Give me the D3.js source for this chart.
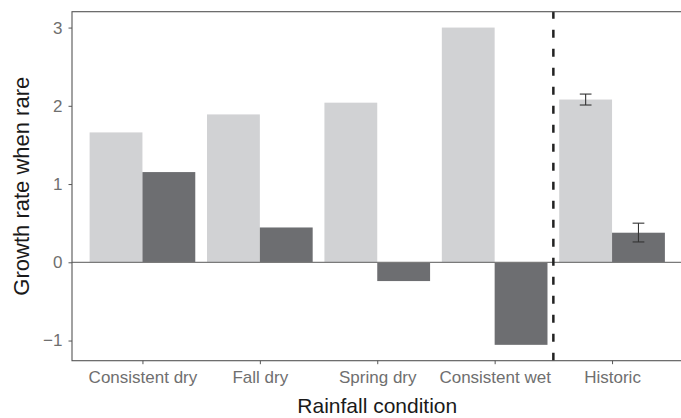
<!DOCTYPE html>
<html>
<head>
<meta charset="utf-8">
<script src="https://cdn.jsdelivr.net/npm/d3@7"></script>
<style>
    html, body { margin: 0; padding: 0; background: #fff; }
    svg { display: block; font-family: "Liberation Sans", Arial, sans-serif; }
</style>
</head>
<body>
<svg id="chart" width="681" height="418"></svg>
<script>
// Chart data
const categories = ['Consistent dry', 'Fall dry', 'Spring dry', 'Consistent wet', 'Historic'];
const seriesNames = ['light', 'dark'];
const lightValues = [1.66, 1.89, 2.04, 3.00, 2.08];
const darkValues = [1.153, 0.445, -0.24, -1.055, 0.378];
// error bars [low, high], only the historic condition has them
const lightErrors = [null, null, null, null, [2.01, 2.15]];
const darkErrors = [null, null, null, null, [0.26, 0.50]];
const yTicks = [-1, 0, 1, 2, 3];

const colors = { light: '#d1d2d4', dark: '#6d6e71' };

const margin = { top: 11.7, right: -1.5, bottom: 57.3, left: 72 };
const width = 681 - margin.left - margin.right;
const height = 418 - margin.top - margin.bottom;

const svg = d3.select('#chart');
const g = svg.append('g')
    .attr('transform', `translate(${margin.left},${margin.top})`);

// Build one row per bar so everything comes from the arrays above
const bars = [];
categories.forEach((cat, i) => {
    bars.push({ cat, series: 'light', value: lightValues[i], err: lightErrors[i] });
    bars.push({ cat, series: 'dark', value: darkValues[i], err: darkErrors[i] });
});

// ggplot-like expansion: 5% on y, 0.6 of a step on the discrete x
const allVals = bars.map(d => d.value).concat([0]);
bars.forEach(d => { if (d.err) allVals.push(...d.err); });
const [yMin, yMax] = d3.extent(allVals);
const yPad = (yMax - yMin) * 0.05;

const x = d3.scalePoint()
    .domain(categories)
    .range([0, width])
    .padding(0.6);

const step = x.step();
const barW = step * 0.45;

const xSub = d3.scaleBand()
    .domain(seriesNames)
    .range([-barW, barW]);

const y = d3.scaleLinear()
    .domain([yMin - yPad, yMax + yPad])
    .range([height, 0]);

// Bars
g.selectAll('rect.bar')
    .data(bars)
    .join('rect')
    .attr('class', 'bar')
    .attr('x', d => x(d.cat) + xSub(d.series))
    .attr('width', xSub.bandwidth())
    .attr('y', d => y(Math.max(0, d.value)))
    .attr('height', d => Math.abs(y(d.value) - y(0)))
    .attr('fill', d => colors[d.series]);

// Zero reference line
g.append('line')
    .attr('x1', 0)
    .attr('x2', width)
    .attr('y1', y(0))
    .attr('y2', y(0))
    .attr('stroke', '#7a7a7a')
    .attr('stroke-width', 1.3);

// Error bars
const capHalf = step * 0.05;
const errBars = bars.filter(d => d.err);
errBars.forEach(d => {
    const cx = x(d.cat) + xSub(d.series) + xSub.bandwidth() / 2;
    const eg = g.append('g')
        .attr('stroke', '#333')
        .attr('stroke-width', 1.1);
    eg.append('line')
        .attr('x1', cx).attr('x2', cx)
        .attr('y1', y(d.err[0])).attr('y2', y(d.err[1]));
    d.err.forEach(v => {
        eg.append('line')
            .attr('x1', cx - capHalf).attr('x2', cx + capHalf)
            .attr('y1', y(v)).attr('y2', y(v));
    });
});

// Dashed separator between the experimental conditions and historic
const sepX = (x(categories[3]) + x(categories[4])) / 2;
g.append('line')
    .attr('x1', sepX)
    .attr('x2', sepX)
    .attr('y1', height)
    .attr('y2', 0)
    .attr('stroke', '#222')
    .attr('stroke-width', 2.5)
    .attr('stroke-dasharray', '8,11');

// Panel border
g.append('rect')
    .attr('x', 0)
    .attr('y', 0)
    .attr('width', width)
    .attr('height', height)
    .attr('fill', 'none')
    .attr('stroke', '#555')
    .attr('stroke-width', 1.1);

// Axes
const yAxis = d3.axisLeft(y)
    .tickValues(yTicks)
    .tickSize(3.5)
    .tickPadding(6)
    .tickFormat(d => d < 0 ? '\u2212' + Math.abs(d) : d);

const yAxisG = g.append('g').call(yAxis);
yAxisG.select('.domain').remove();
yAxisG.selectAll('line').attr('stroke', '#555');
yAxisG.selectAll('text')
    .style('font-size', '17px')
    .attr('fill', '#6f6f6f');

const xAxis = d3.axisBottom(x)
    .tickSize(3.5)
    .tickPadding(7);

const xAxisG = g.append('g')
    .attr('transform', `translate(0,${height})`)
    .call(xAxis);
xAxisG.select('.domain').remove();
xAxisG.selectAll('line').attr('stroke', '#555');
xAxisG.selectAll('text')
    .style('font-size', '17px')
    .attr('fill', '#6f6f6f');

// Axis titles
svg.append('text')
    .attr('x', margin.left + width / 2)
    .attr('y', 413)
    .attr('text-anchor', 'middle')
    .style('font-size', '21px')
    .attr('fill', '#1a1a1a')
    .text('Rainfall condition');

svg.append('text')
    .attr('transform', `translate(29,${margin.top + height / 2}) rotate(-90)`)
    .attr('text-anchor', 'middle')
    .style('font-size', '22px')
    .attr('fill', '#1a1a1a')
    .text('Growth rate when rare');
</script>
</body>
</html>
